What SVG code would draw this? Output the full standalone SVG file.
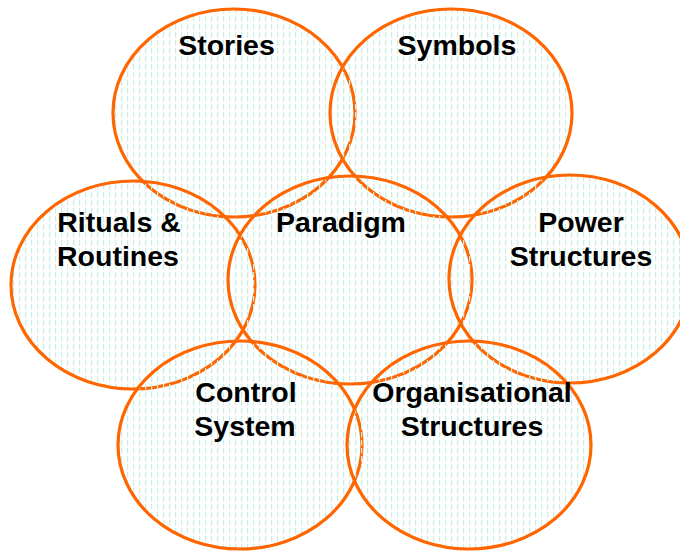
<svg xmlns="http://www.w3.org/2000/svg" width="680" height="552" viewBox="0 0 680 552">
<defs>
<pattern id="hatch" patternUnits="userSpaceOnUse" width="6" height="8">
<rect x="1" y="0" width="1.2" height="5.5" fill="#c8eee4"/>
</pattern>
<style>
.c{fill:url(#hatch);stroke:#ff6600;stroke-width:3.2}
.t{font-family:"Liberation Sans",Arial,sans-serif;font-weight:bold;font-size:28.5px;fill:#000;text-anchor:middle}
</style>
</defs>
<rect width="680" height="552" fill="#ffffff"/>
<g id="stories"><ellipse class="c" cx="234" cy="113" rx="121" ry="104"/></g>
<g id="symbols"><ellipse class="c" cx="451" cy="113" rx="121" ry="104"/></g>
<g id="rituals"><ellipse class="c" cx="133" cy="285" rx="122" ry="104"/></g>
<g id="paradigm"><ellipse class="c" cx="350" cy="280" rx="122" ry="104"/></g>
<g id="power"><ellipse class="c" cx="570" cy="279" rx="121" ry="104"/></g>
<g id="control"><ellipse class="c" cx="240" cy="445" rx="122" ry="104"/></g>
<g id="organisational"><ellipse class="c" cx="469" cy="445" rx="122" ry="104"/></g>
<g id="labels">
<text class="t" x="226.5" y="55">Stories</text>
<text class="t" x="457" y="55">Symbols</text>
<text class="t" x="119" y="232">Rituals &amp;</text>
<text class="t" x="118" y="266">Routines</text>
<text class="t" x="341" y="232">Paradigm</text>
<text class="t" x="581" y="232">Power</text>
<text class="t" x="581" y="266">Structures</text>
<text class="t" x="246" y="402">Control</text>
<text class="t" x="245" y="436">System</text>
<text class="t" x="472" y="402">Organisational</text>
<text class="t" x="472" y="436">Structures</text>
</g>
<g id="connectors"></g>
</svg>
